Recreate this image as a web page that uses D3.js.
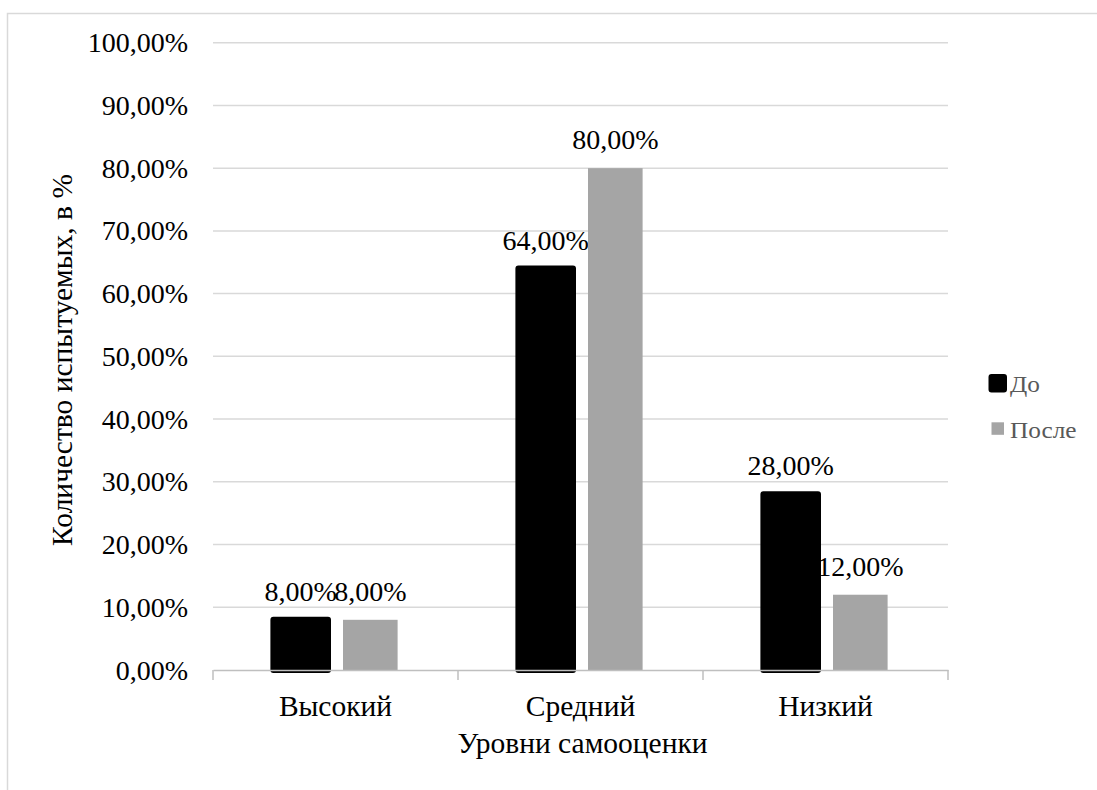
<!DOCTYPE html>
<html>
<head>
<meta charset="utf-8">
<script src="https://cdn.jsdelivr.net/npm/d3@7"></script>
<style>
  html, body { margin: 0; padding: 0; background: #fff; }
  svg { display: block; }
  text { font-family: "Liberation Serif", "Times New Roman", serif; }
</style>
</head>
<body>
<svg id="chart" width="1097" height="790"></svg>
<script>
// Self-esteem levels before and after, share of participants (%)
const categories = ["Высокий", "Средний", "Низкий"];
const seriesNames = ["До", "После"];
const before = [8, 64, 28];
const after = [8, 80, 12];
const yTicks = [0, 10, 20, 30, 40, 50, 60, 70, 80, 90, 100];
const yTitle = "Количество испытуемых, в %";
const xTitle = "Уровни самооценки";

const colors = { "До": "#000000", "После": "#a5a5a5" };
const series = [
  { name: seriesNames[0], values: before },
  { name: seriesNames[1], values: after }
];

const svg = d3.select("#chart");
const plot = { left: 213, right: 948, top: 42.7, bottom: 670 };

const fmt = v => v.toFixed(2).replace(".", ",") + "%";

// outer chart frame
svg.append("rect")
  .attr("x", 7.5).attr("y", 13.5)
  .attr("width", 1100).attr("height", 800)
  .attr("fill", "none").attr("stroke", "#d9d9d9").attr("stroke-width", 1.5);

const x0 = d3.scaleBand().domain(categories).range([plot.left, plot.right]).paddingInner(0).paddingOuter(0);
const bw = 54.6, gap = 15;
const pairW = 2 * bw + gap;
const x1 = d3.scaleBand().domain(seriesNames)
  .range([x0.bandwidth() / 2 - pairW / 2, x0.bandwidth() / 2 + pairW / 2])
  .paddingInner(gap / (pairW - bw)).paddingOuter(0);
const y = d3.scaleLinear().domain([0, 100]).range([plot.bottom, plot.top]);

// horizontal gridlines
svg.append("g").selectAll("line").data(yTicks.filter(t => t > 0)).join("line")
  .attr("x1", plot.left).attr("x2", plot.right)
  .attr("y1", d => y(d)).attr("y2", d => y(d))
  .attr("stroke", "#d9d9d9").attr("stroke-width", 1.5);

// y tick labels
svg.append("g").selectAll("text").data(yTicks).join("text")
  .attr("x", 188).attr("y", d => y(d) + 9.6)
  .attr("text-anchor", "end")
  .attr("font-size", 28).attr("fill", "#000")
  .text(d => fmt(d));

const points = series.flatMap(s => s.values.map((v, i) => ({ name: s.name, cat: categories[i], v })));

// data labels (drawn beneath the bars)
svg.append("g").selectAll("text").data(points).join("text")
  .attr("x", d => x0(d.cat) + x1(d.name) + x1.bandwidth() / 2)
  .attr("y", d => y(d.v) - 19)
  .attr("text-anchor", "middle")
  .attr("font-size", 28).attr("fill", "#000")
  .text(d => fmt(d.v));

// bars
svg.append("g").selectAll("rect").data(points).join("rect")
  .attr("x", d => x0(d.cat) + x1(d.name))
  .attr("y", d => y(d.v))
  .attr("width", x1.bandwidth())
  .attr("height", d => y(0) - y(d.v))
  .attr("fill", d => colors[d.name])
  .attr("stroke", d => d.name === "До" ? "#000" : "none")
  .attr("stroke-width", 6)
  .attr("stroke-linejoin", "round");

// x axis line with category boundary ticks
const xAxis = d3.axisBottom(x0).tickSize(0).tickFormat("");
const axisG = svg.append("g").attr("transform", `translate(0,${plot.bottom})`).call(xAxis);
axisG.select(".domain").attr("stroke", "#bfbfbf").attr("stroke-width", 1.5);
const bounds = [plot.left].concat(categories.map(c => x0(c) + x0.bandwidth()));
svg.append("g").selectAll("line").data(bounds).join("line")
  .attr("x1", d => d).attr("x2", d => d)
  .attr("y1", plot.bottom).attr("y2", plot.bottom + 10)
  .attr("stroke", "#bfbfbf").attr("stroke-width", 1.5);

// category labels
svg.append("g").selectAll("text").data(categories).join("text")
  .attr("x", d => x0(d) + x0.bandwidth() / 2)
  .attr("y", 716)
  .attr("text-anchor", "middle")
  .attr("font-size", 29.5).attr("fill", "#000")
  .text(d => d);

// axis titles
svg.append("text")
  .attr("x", (plot.left + plot.right) / 2 + 2).attr("y", 753)
  .attr("text-anchor", "middle").attr("font-size", 29.5).attr("fill", "#000")
  .text(xTitle);

svg.append("text")
  .attr("transform", `translate(72,360) rotate(-90)`)
  .attr("text-anchor", "middle").attr("font-size", 29.5).attr("fill", "#000")
  .text(yTitle);

// legend
const legend = svg.append("g").selectAll("g").data(seriesNames).join("g")
  .attr("transform", (d, i) => `translate(991.5,${377 + i * 45.3})`);
legend.append("rect")
  .attr("width", 12.5).attr("height", 12.5)
  .attr("fill", d => colors[d])
  .attr("stroke", d => d === "До" ? "#000" : "none")
  .attr("stroke-width", 6).attr("stroke-linejoin", "round");
legend.append("text")
  .attr("transform", "translate(18.5,15.3) scale(1.1,1)")
  .attr("font-size", 23).attr("fill", "#595959")
  .text(d => d);
</script>
</body>
</html>
